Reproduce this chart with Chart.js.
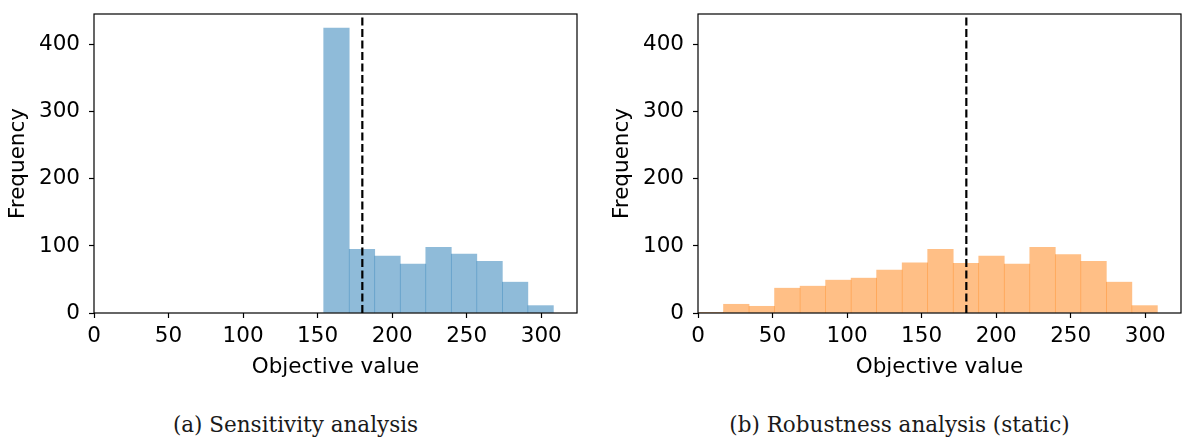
<!DOCTYPE html>
<html>
<head>
<meta charset="utf-8">
<script src="https://cdn.jsdelivr.net/npm/chart.js@4.4.1/dist/chart.umd.min.js"></script>
<style>
    html, body { margin: 0; padding: 0; background: #fff; overflow: hidden; }
    body { width: 1182px; height: 440px; position: relative; }
    .panel { position: absolute; top: 0; width: 591px; height: 390px; }
    .caption {
        position: absolute; top: 414px; width: 591px; text-align: center; line-height: 1;
        font-family: "DejaVu Serif", "Liberation Serif", serif; font-size: 21.5px; color: #1a1a1a;
    }
</style>
</head>
<body>
<div class="panel" style="left:0"><canvas id="sensChart" width="591" height="390"></canvas></div>
<div class="panel" style="left:604px"><canvas id="robChart" width="591" height="390"></canvas></div>
<div class="caption" style="left:0">(a) Sensitivity analysis</div>
<div class="caption" style="left:604px">(b) Robustness analysis (static)</div>

<script>
// histogram bin edges (objective value), shared by both panels
const binEdges = [0, 17.12, 34.24, 51.36, 68.48, 85.6, 102.72, 119.84, 136.96, 154.08,
    171.2, 188.32, 205.44, 222.56, 239.68, 256.8, 273.92, 291.04, 308.16];

// sensitivity analysis: counts for the bins starting at 154.08
const sensFirstBin = 9;
const sensCounts = [425, 95, 85, 73, 98, 88, 77, 46, 11];

// robustness analysis (static): counts for every bin
const robCounts = [1, 13, 10, 37, 40, 49, 52, 64, 75, 95, 74, 85, 73, 98, 87, 77, 46, 11];

// reference objective value (dashed line)
const refValue = 180;

const xTicks = [0, 50, 100, 150, 200, 250, 300];
const yTicks = [0, 100, 200, 300, 400];
const xMax = 324;
const yMax = 446;

const tickFont = {family: 'DejaVu Sans', size: 21.5};

function histPoints(counts, firstBin) {
    return counts.map((c, i) => {
        const lo = binEdges[firstBin + i];
        const hi = binEdges[firstBin + i + 1];
        return {x: (lo + hi) / 2, y: c};
    });
}

// frame around the plot area (all four spines)
const framePlugin = {
    id: 'frame',
    afterDatasetsDraw(chart) {
        const a = chart.chartArea;
        const ctx = chart.ctx;
        ctx.save();
        ctx.strokeStyle = '#000';
        ctx.lineWidth = 1.2;
        ctx.strokeRect(a.left, a.top, a.right - a.left, a.bottom - a.top);
        ctx.restore();
    }
};

function makeChart(el, points, fill) {
    return new Chart(el, {
        type: 'bar',
        data: {
            datasets: [{
                type: 'line',
                data: [{x: refValue, y: 0}, {x: refValue, y: yMax}],
                borderColor: '#000',
                borderWidth: 2.2,
                borderDash: [8, 3.5],
                pointRadius: 0,
                order: 0
            }, {
                data: points,
                backgroundColor: fill,
                borderWidth: 0,
                barPercentage: 1.0,
                categoryPercentage: 1.0,
                order: 1
            }]
        },
        options: {
            responsive: false,
            animation: false,
            layout: {padding: {top: 14, right: 14, left: 0, bottom: 0}},
            plugins: {legend: {display: false}, tooltip: {enabled: false}},
            scales: {
                x: {
                    type: 'linear',
                    min: 0,
                    max: xMax,
                    offset: false,
                    grid: {drawOnChartArea: false, offset: false, tickLength: 5, tickColor: '#000', tickWidth: 1.2},
                    border: {display: false},
                    afterBuildTicks: s => { s.ticks = xTicks.map(v => ({value: v})); },
                    afterFit: s => { s.height = 77; s.paddingLeft = 0; s.paddingRight = 0; },
                    ticks: {color: '#000', font: tickFont, padding: 6, maxRotation: 0},
                    title: {display: true, text: 'Objective value', color: '#000', font: tickFont, padding: {top: 0, bottom: 10}}
                },
                y: {
                    min: 0,
                    max: yMax,
                    grid: {drawOnChartArea: false, tickLength: 5, tickColor: '#000', tickWidth: 1.2},
                    border: {display: false},
                    afterBuildTicks: s => { s.ticks = yTicks.map(v => ({value: v})); },
                    afterFit: s => { s.width = 94; s.paddingTop = 0; s.paddingBottom = 0; },
                    ticks: {color: '#000', font: tickFont, padding: 9},
                    title: {display: true, text: 'Frequency', color: '#000', font: tickFont, padding: {top: 6, bottom: 0}}
                }
            }
        },
        plugins: [framePlugin]
    });
}

makeChart(document.getElementById('sensChart'), histPoints(sensCounts, sensFirstBin), 'rgba(31,119,180,0.5)');
makeChart(document.getElementById('robChart'), histPoints(robCounts, 0), 'rgba(255,127,14,0.5)');
</script>
</body>
</html>
